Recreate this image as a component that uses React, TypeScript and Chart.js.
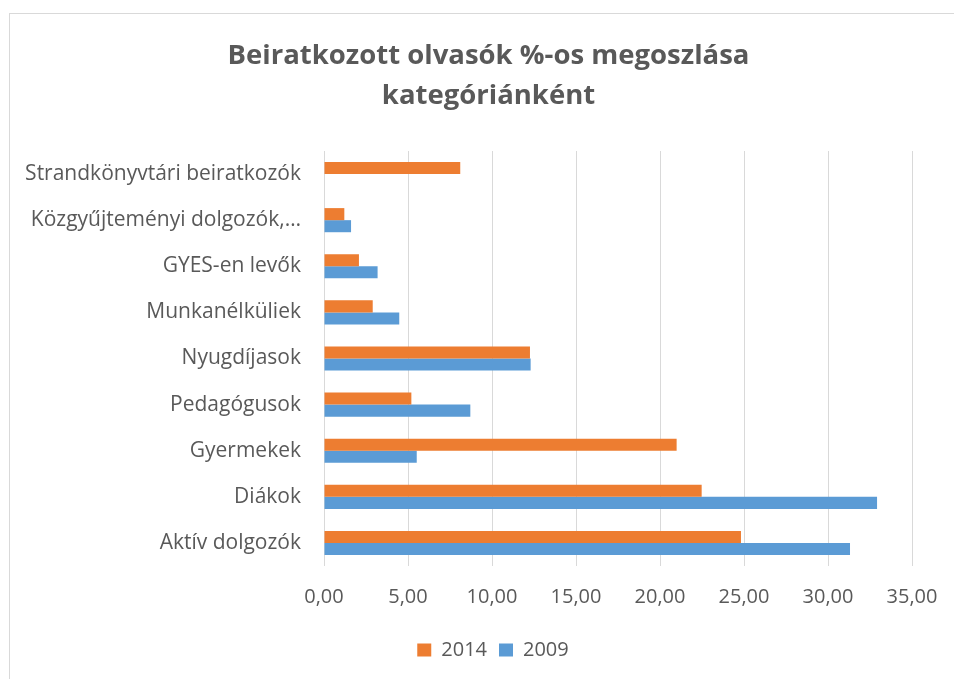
import React, { useEffect, useRef } from "react";
import { Chart, registerables } from "chart.js";

Chart.register(...registerables);

const categories = [
  "Strandkönyvtári beiratkozók",
  "Közgyűjteményi dolgozók,…",
  "GYES-en levők",
  "Munkanélküliek",
  "Nyugdíjasok",
  "Pedagógusok",
  "Gyermekek",
  "Diákok",
  "Aktív dolgozók",
];

const series2014 = [8.11, 1.21, 2.08, 2.9, 12.26, 5.2, 20.99, 22.48, 24.82];
const series2009 = [null, 1.61, 3.19, 4.48, 12.3, 8.71, 5.52, 32.92, 31.31];

const seriesLabels = ["2014", "2009"];
const titleLines = ["Beiratkozott olvasók %-os megoszlása", "kategóriánként"];

const xMin = 0;
const xMax = 35;
const xStep = 5;

const ORANGE = "#ED7D31";
const BLUE = "#5B9BD5";
const TEXT = "#595959";
const GRID = "#D9D9D9";
const FONT = "'Open Sans', Lato, sans-serif";

// Centre the title and legend over the whole chart frame rather than the plot.
const centreBoxes = {
  id: "centreBoxes",
  afterLayout(chart: any) {
    if (chart.titleBlock) {
      chart.titleBlock.left = 65;
    }
    if (chart.legend) {
      chart.legend.left = 74;
    }
  },
};

export default function App() {
  const canvasRef = useRef<HTMLCanvasElement | null>(null);

  useEffect(() => {
    const canvas = canvasRef.current;
    if (!canvas) return;
    const chart = new Chart(canvas, {
      type: "bar",
      data: {
        labels: categories,
        datasets: [
          {
            label: seriesLabels[0],
            data: series2014,
            backgroundColor: ORANGE,
            borderWidth: 0,
          },
          {
            label: seriesLabels[1],
            data: series2009,
            backgroundColor: BLUE,
            borderWidth: 0,
          },
        ],
      },
      plugins: [centreBoxes],
      options: {
        indexAxis: "y",
        animation: false,
        responsive: false,
        maintainAspectRatio: false,
        devicePixelRatio: 1,
        datasets: {
          bar: {
            categoryPercentage: 0.523,
            barPercentage: 1,
          },
        },
        layout: {
          padding: { left: 0, right: 42, top: 36, bottom: 9 },
        },
        plugins: {
          title: {
            display: true,
            text: titleLines,
            color: TEXT,
            font: { family: FONT, size: 27.5, weight: "bold", lineHeight: 40 / 27.5 },
            padding: { top: 0, bottom: 35 },
          },
          legend: {
            display: true,
            position: "bottom",
            labels: {
              color: TEXT,
              font: { family: FONT, size: 20 },
              boxWidth: 14,
              boxHeight: 13,
              padding: 12,
            },
          },
          tooltip: { enabled: false },
        },
        scales: {
          x: {
            min: xMin,
            max: xMax,
            ticks: {
              stepSize: xStep,
              color: TEXT,
              font: { family: FONT, size: 20 },
              padding: 19,
              maxRotation: 0,
              callback: (v: any) => Number(v).toFixed(2).replace(".", ","),
            },
            grid: {
              color: GRID,
              lineWidth: 1,
              drawTicks: false,
            },
            border: { display: false },
            afterFit: (scale: any) => {
              scale.height = 62;
              scale.paddingLeft = 0;
              scale.paddingRight = 0;
            },
          },
          y: {
            ticks: {
              color: TEXT,
              font: { family: FONT, size: 21 },
              padding: 23,
              autoSkip: false,
            },
            grid: { display: false, drawTicks: false },
            border: { display: false },
            afterFit: (scale: any) => {
              scale.width = 324;
              scale.paddingTop = 0;
              scale.paddingBottom = 0;
            },
          },
        },
      },
    });
    return () => chart.destroy();
  }, []);

  return (
    <div
      style={{
        position: "fixed",
        left: 0,
        top: 0,
        width: 954,
        height: 679,
        overflow: "hidden",
        background: "#ffffff",
      }}
    >
      <div
        style={{
          position: "absolute",
          left: 9,
          top: 13,
          width: 960,
          height: 700,
          border: "1px solid #D9D9D9",
          boxSizing: "border-box",
        }}
      />
      <canvas
        ref={canvasRef}
        width={954}
        height={679}
        style={{ position: "absolute", left: 0, top: 0, width: 954, height: 679 }}
      />
    </div>
  );
}
